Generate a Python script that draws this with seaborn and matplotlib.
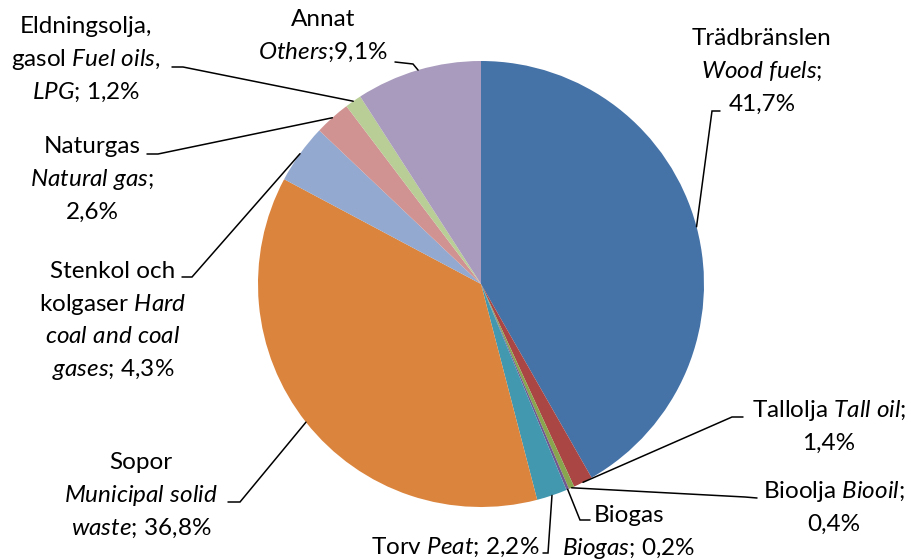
import matplotlib
matplotlib.use("Agg")
import matplotlib.pyplot as plt
import seaborn as sns
import numpy as np

# ---- data ----
shares = [41.7, 1.4, 0.4, 0.2, 2.2, 36.8, 4.3, 2.6, 1.2, 9.1]
colors = ["#4572A7", "#AA4643", "#89A54E", "#71588F", "#4198AF",
          "#DB843D", "#93A9CF", "#D19392", "#B9CD96", "#A99BBD"]
label_lines = [
    ["Trädbränslen", r"$\mathit{Wood\ fuels}$;", "41,7%"],
    [r"Tallolja $\mathit{Tall\ oil}$;", "1,4%"],
    [r"Bioolja $\mathit{Biooil}$;", "0,4%"],
    ["Biogas", r"$\mathit{Biogas}$; 0,2%"],
    [r"Torv $\mathit{Peat}$; 2,2%"],
    ["Sopor", r"$\mathit{Municipal\ solid}$", r"$\mathit{waste}$; 36,8%"],
    ["Stenkol och", r"kolgaser $\mathit{Hard}$", r"$\mathit{coal\ and\ coal}$", r"$\mathit{gases}$; 4,3%"],
    ["Naturgas", r"$\mathit{Natural\ gas}$;", "2,6%"],
    ["Eldningsolja,", r"gasol $\mathit{Fuel\ oils}$,", r"$\mathit{LPG}$; 1,2%"],
    ["Annat", r"$\mathit{Others}$;9,1%"],
]

# ---- layout (pixel space) ----
W, H = 912, 559
cx, cy, R = 481, 284, 223
label_x = [762, 829, 834, 629, 455, 141, 113, 92, 86, 323]
label_first_baseline = [45, 417, 498, 522, 554, 469, 278, 153, 33, 26]
line_step = 32.7
leader_end = [(720, 111), (743, 417), (757, 498), (590, 520), (543, 553),
              (228, 502), (182, 277), (147, 154), (172, 67), (395, 62)]
leader_elbow = [(712, 111), (732, 417), (745, 497), (580, 520), (548, 553),
                (240, 502), (192, 277), (158, 154), (183, 67), (413, 64)]

sns.set_theme(style="white")
plt.rcParams["font.family"] = ["Lato", "DejaVu Sans"]
plt.rcParams["mathtext.fontset"] = "custom"
plt.rcParams["mathtext.rm"] = "Lato"
plt.rcParams["mathtext.it"] = "Lato:italic"

fig = plt.figure(figsize=(W / 100, H / 100), dpi=100)
ax = fig.add_axes([0, 0, 1, 1])

pal = sns.color_palette(colors)
ax.pie(shares, colors=pal, center=(cx, cy), radius=R, startangle=-90,
       counterclock=True, frame=True,
       wedgeprops=dict(linewidth=0, edgecolor="none"))
ax.set_xlim(0, W)
ax.set_ylim(H, 0)
ax.set_aspect("equal")
ax.axis("off")

total = sum(shares)
cum = np.cumsum([0] + shares[:-1])
for i, s in enumerate(shares):
    mid = (cum[i] + s / 2) / total
    theta = np.deg2rad(-90 + 360 * mid)
    ax_, ay_ = cx + R * np.cos(theta), cy + R * np.sin(theta)
    ex, ey = leader_end[i]
    bx, by = leader_elbow[i]
    ax.plot([ex, bx, ax_], [ey, by, ay_], color="black", lw=1.1,
            solid_joinstyle="miter", zorder=3)
    for j, line in enumerate(label_lines[i]):
        ax.text(label_x[i], label_first_baseline[i] + j * line_step, line,
                ha="center", va="baseline", fontsize=17.5, color="black")

fig.savefig("out.png", dpi=100)
